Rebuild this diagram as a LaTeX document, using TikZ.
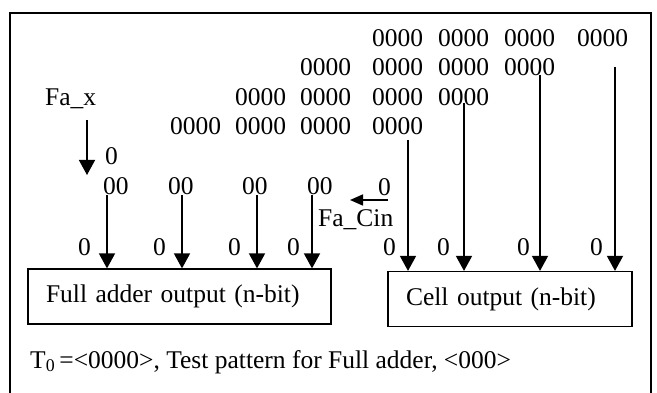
\documentclass[tikz,border=0pt]{standalone}
\usepackage{fontspec}
\setmainfont{Liberation Serif}
\usetikzlibrary{arrows.meta}

\begin{document}
\begin{tikzpicture} [
      x=1pt, y=-1pt,
      font=\fontsize{25.5}{30}\selectfont,
      bits/.style={anchor=base west, inner sep=0pt},
      outbox/.style={draw, line width=1.2pt, inner xsep=18pt, inner ysep=0pt, align=left, minimum height=55pt},
      wire/.style={-{Triangle[length=15pt, width=16pt]}, line width=1.6pt},
      carry/.style={-{Triangle[length=13pt, width=11pt]}, line width=1.6pt},
      frame/.style={line width=1.6pt}
  ]
  \useasboundingbox (0,0) rectangle (657,393);
  \draw[frame] (10,400) -- (10,13) -- (651,13) -- (651,400);

  % test pattern rows
  \node[bits] (r1a) at (372,47) {0000};
  \node[bits] (r1b) at (438,47) {0000};
  \node[bits] (r1c) at (504,47) {0000};
  \node[bits] (r1d) at (577,47) {0000};
  \node[bits] (r2a) at (300,76) {0000};
  \node[bits] (r2b) at (372,76) {0000};
  \node[bits] (r2c) at (438,76) {0000};
  \node[bits] (r2d) at (504,76) {0000};
  \node[bits] (r3a) at (235,106) {0000};
  \node[bits] (r3b) at (300,106) {0000};
  \node[bits] (r3c) at (372,106) {0000};
  \node[bits] (r3d) at (438,106) {0000};
  \node[bits] (r4a) at (170,135) {0000};
  \node[bits] (r4b) at (235,135) {0000};
  \node[bits] (r4c) at (300,135) {0000};
  \node[bits] (r4d) at (372,135) {0000};

  \node[bits] (fax) at (45,106) {Fa\_x};
  \node[bits] (xbit) at (105,165) {0};
  \node[bits] (s1) at (103,195) {00};
  \node[bits] (s2) at (168,195) {00};
  \node[bits] (s3) at (242,195) {00};
  \node[bits] (s4) at (307,195) {00};
  \node[bits] (cbit) at (378,196) {0};
  \node[bits] (facin) at (318,227) {Fa\_Cin};

  % output bits
  \node[bits] (o1) at (78,256) {0};
  \node[bits] (o2) at (153,256) {0};
  \node[bits] (o3) at (228,256) {0};
  \node[bits] (o4) at (287,256) {0};
  \node[bits] (o5) at (383,256) {0};
  \node[bits] (o6) at (437,256) {0};
  \node[bits] (o7) at (517,256) {0};
  \node[bits] (o8) at (590,256) {0};

  \node[outbox, text width=267pt] (fa) at (179.5,296.5) {Full adder output (n-bit)};
  \node[outbox, text width=208pt] (cell) at (510,299) {Cell output (n-bit)};
  \node[bits] (pattern) at (30,368) {T\textsubscript{0}\,=<0000>, Test pattern for Full adder, <000>};

  \coordinate (xin) at (87,120);
  \coordinate (xout) at (87,175);
  \coordinate (cin) at (388,200);
  \coordinate (cout) at (350,200);
  \coordinate (a1) at (107,195);
  \coordinate (a2) at (182,195);
  \coordinate (a3) at (257,195);
  \coordinate (a4) at (312,195);
  \coordinate (b1) at (408,140);
  \coordinate (b2) at (464,103);
  \coordinate (b3) at (540,75);
  \coordinate (b4) at (615,67);

  \draw[wire] (xin) -- (xout);
  \draw[carry] (cin) -- (cout);
  \draw[wire] (a1) -- (a1 |- fa.north);
  \draw[wire] (a2) -- (a2 |- fa.north);
  \draw[wire] (a3) -- (a3 |- fa.north);
  \draw[wire] (a4) -- (a4 |- fa.north);
  \draw[wire] (b1) -- (b1 |- cell.north);
  \draw[wire] (b2) -- (b2 |- cell.north);
  \draw[wire] (b3) -- (b3 |- cell.north);
  \draw[wire] (b4) -- (b4 |- cell.north);
\end{tikzpicture}
\end{document}
